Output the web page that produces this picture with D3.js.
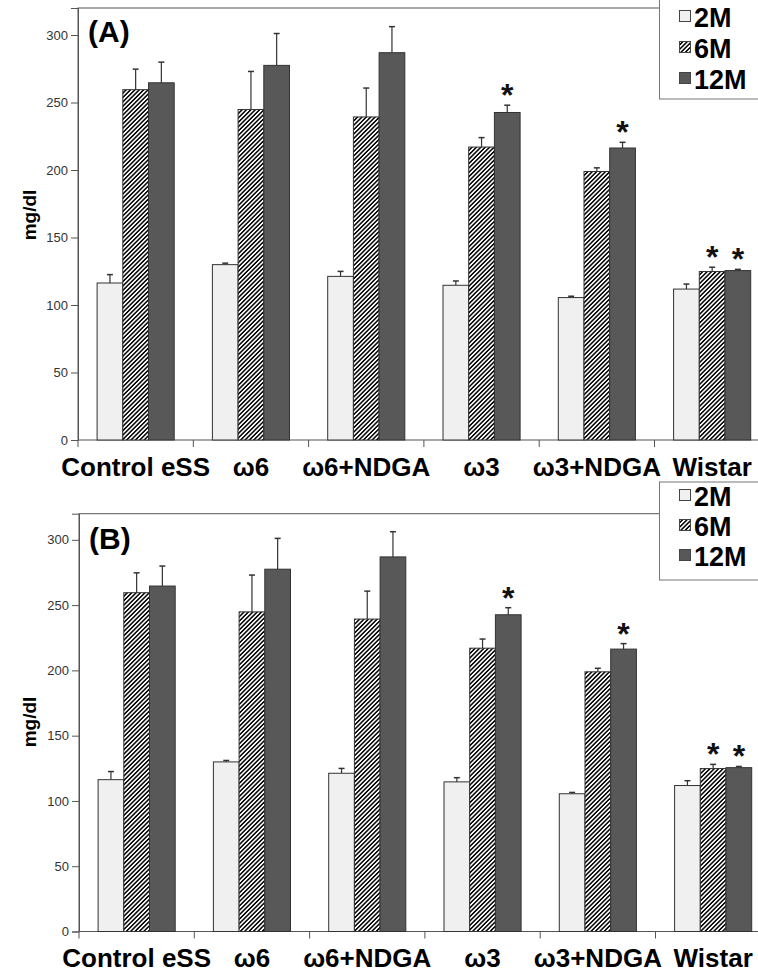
<!DOCTYPE html>
<html>
<head>
<meta charset="utf-8">
<script src="https://cdn.jsdelivr.net/npm/d3@7"></script>
<style>
  html, body { margin: 0; padding: 0; background: #fff; }
  svg { display: block; font-family: "Liberation Sans", Arial, sans-serif; }
</style>
</head>
<body>
<svg id="chart" width="758" height="973"></svg>
<script>
// ---------- DATA ----------
const categories = ["Control eSS", "ω6", "ω6+NDGA", "ω3", "ω3+NDGA", "Wistar"];
const seriesNames = ["2M", "6M", "12M"];
const values2M  = [116.3, 129.9, 121.2, 114.6, 105.5, 111.8];
const errors2M  = [6.2, 1.1, 3.7, 3.2, 1.0, 3.7];
const values6M  = [259.5, 244.8, 239.3, 217.0, 198.9, 124.8];
const errors6M  = [15.2, 28.2, 21.4, 7.0, 2.7, 3.2];
const values12M = [264.6, 277.5, 286.9, 242.6, 216.3, 125.5];
const errors12M = [15.3, 23.6, 19.3, 5.4, 4.2, 0.9];
const significant6M  = [false, false, false, false, false, true];
const significant12M = [false, false, false, true, true, true];
const yTicks = [0, 50, 100, 150, 200, 250, 300];
const yDomain = [0, 320];
const panelLabels = ["(A)", "(B)"];

// ---------- BUILD ----------
const seriesTable = [
  { name: "2M",  values: values2M,  errors: errors2M,  sig: categories.map(() => false) },
  { name: "6M",  values: values6M,  errors: errors6M,  sig: significant6M },
  { name: "12M", values: values12M, errors: errors12M, sig: significant12M }
];
const fills = { "2M": "#f0f0f0", "6M": "url(#hatch)", "12M": "#585858" };

const svg = d3.select("#chart");
const defs = svg.append("defs");
const pat = defs.append("pattern")
  .attr("id", "hatch").attr("patternUnits", "userSpaceOnUse")
  .attr("width", 3.1).attr("height", 3.1)
  .attr("patternTransform", "rotate(45)");
pat.append("rect").attr("width", 3.1).attr("height", 3.1).attr("fill", "#fff");
pat.append("line").attr("x1", 0.8).attr("y1", 0).attr("x2", 0.8).attr("y2", 3.1)
  .attr("stroke", "#000").attr("stroke-width", 1.5);

const panels = [
  { left: 78, top: 8,     bottom: 440,   label: panelLabels[0], labelY: 42,
    legendTop: -10, legendBottom: 99, legendRows: [27, 58, 89], catY: 476, yLabelY: 215 },
  { left: 79, top: 513.7, bottom: 931.5, label: panelLabels[1], labelY: 549,
    legendTop: 482, legendBottom: 580, legendRows: [506, 536, 566], catY: 967, yLabelY: 722 }
];

const groupWidth = 115.3;

panels.forEach(p => {
  const g = svg.append("g");
  const x = d3.scaleBand().domain(categories)
    .range([p.left, p.left + groupWidth * categories.length]).padding(0);
  const xs = d3.scaleBand().domain(seriesNames)
    .range([0, x.bandwidth()]).paddingInner(0).paddingOuter(0.743);
  const y = d3.scaleLinear().domain(yDomain).range([p.bottom, p.top]);

  // frame
  g.append("rect")
    .attr("x", p.left).attr("y", p.top)
    .attr("width", groupWidth * categories.length).attr("height", p.bottom - p.top)
    .attr("fill", "none").attr("stroke", "#555").attr("stroke-width", 1);

  // y axis
  const yAxis = g.append("g").attr("transform", `translate(${p.left},0)`)
    .call(d3.axisLeft(y).tickValues(yTicks).tickSize(7).tickPadding(3).tickFormat(d3.format("d")));
  yAxis.select(".domain").attr("stroke", "#555");
  yAxis.selectAll(".tick line").attr("stroke", "#555");
  yAxis.selectAll(".tick text").attr("font-size", 13).attr("fill", "#333")
    .attr("font-family", "Liberation Sans, Arial, sans-serif");

  // x ticks at group boundaries
  const bounds = categories.map(c => x(c));
  g.selectAll(".xtick").data(bounds).enter().append("line")
    .attr("x1", d => d).attr("x2", d => d)
    .attr("y1", p.bottom).attr("y2", p.bottom + 7)
    .attr("stroke", "#555");

  // category labels
  g.selectAll(".cat").data(categories).enter().append("text")
    .attr("x", d => x(d) + x.bandwidth() / 2).attr("y", p.catY)
    .attr("text-anchor", "middle").attr("font-size", 26).attr("font-weight", "bold")
    .attr("fill", "#000").text(d => d);

  // bars
  seriesTable.forEach(s => {
    const sg = g.append("g");
    const data = categories.map((c, i) => ({ c, v: s.values[i], e: s.errors[i], sig: s.sig[i] }));
    sg.selectAll(".err").data(data).enter().append("line")
      .attr("x1", d => x(d.c) + xs(s.name) + xs.bandwidth() / 2)
      .attr("x2", d => x(d.c) + xs(s.name) + xs.bandwidth() / 2)
      .attr("y1", d => y(d.v)).attr("y2", d => y(d.v + d.e))
      .attr("stroke", "#333").attr("stroke-width", 1.2);
    sg.selectAll(".cap").data(data).enter().append("line")
      .attr("x1", d => x(d.c) + xs(s.name) + xs.bandwidth() / 2 - 3)
      .attr("x2", d => x(d.c) + xs(s.name) + xs.bandwidth() / 2 + 3)
      .attr("y1", d => y(d.v + d.e)).attr("y2", d => y(d.v + d.e))
      .attr("stroke", "#333").attr("stroke-width", 1.5);
    sg.selectAll(".bar").data(data).enter().append("rect")
      .attr("x", d => x(d.c) + xs(s.name)).attr("width", xs.bandwidth())
      .attr("y", d => y(d.v)).attr("height", d => y(0) - y(d.v))
      .attr("fill", fills[s.name]).attr("stroke", "#333").attr("stroke-width", 1);
    sg.selectAll(".star").data(data.filter(d => d.sig)).enter().append("text")
      .attr("x", d => x(d.c) + xs(s.name) + xs.bandwidth() / 2)
      .attr("y", d => y(d.v + d.e) + 1)
      .attr("text-anchor", "middle").attr("font-size", 32).attr("font-weight", "bold")
      .attr("fill", "#111").text("*");
  });

  // panel label
  g.append("text").attr("x", p.left + 10).attr("y", p.labelY)
    .attr("font-size", 30).attr("font-weight", "bold").attr("fill", "#000").text(p.label);

  // y label
  g.append("text")
    .attr("transform", `translate(36,${p.yLabelY}) rotate(-90)`)
    .attr("text-anchor", "middle").attr("font-size", 19).attr("font-weight", "bold")
    .attr("fill", "#000").text("mg/dl");

  // legend
  const lg = g.append("g");
  lg.append("rect").attr("x", 659.5).attr("y", p.legendTop)
    .attr("width", 120).attr("height", p.legendBottom - p.legendTop)
    .attr("fill", "#fff").attr("stroke", "#777").attr("stroke-width", 1);
  seriesNames.forEach((n, i) => {
    const by = p.legendRows[i];
    lg.append("rect").attr("x", 679.5).attr("y", by - 16.5).attr("width", 11).attr("height", 11)
      .attr("fill", fills[n]).attr("stroke", "#444").attr("stroke-width", 1);
    lg.append("text").attr("x", 694).attr("y", by)
      .attr("font-size", 27).attr("font-weight", "bold").attr("fill", "#000").text(n);
  });
});
</script>
</body>
</html>
